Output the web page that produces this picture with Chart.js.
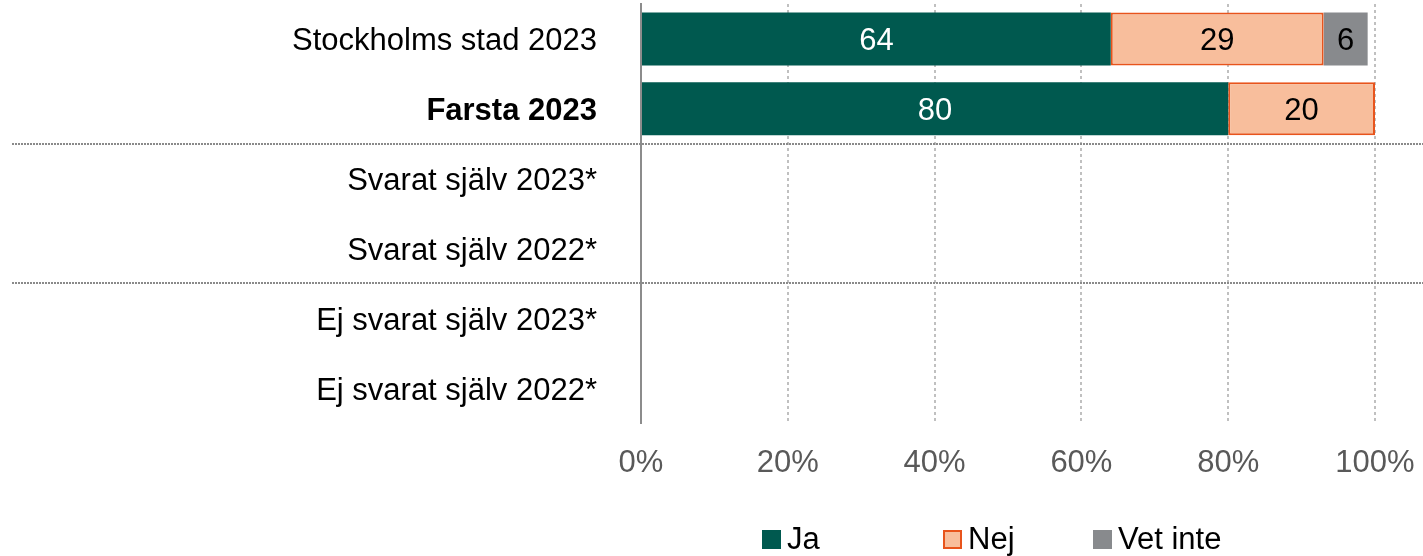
<!DOCTYPE html>
<html lang="sv">
<head>
<meta charset="utf-8">
<script src="https://cdn.jsdelivr.net/npm/chart.js@4.4.0/dist/chart.umd.min.js"></script>
<style>
  html, body { margin: 0; padding: 0; background: #fff; }
  #wrap { position: relative; width: 1423px; height: 556px; }
  #legend { position: absolute; left: 0; top: 520px; width: 1423px; height: 38px;
            font: 31px "Liberation Sans", Arial, sans-serif; color: #000; }
  .item { position: absolute; top: 0; height: 38px; display: flex; align-items: center; white-space: nowrap; }
  .swatch { width: 19px; height: 19px; margin-right: 6px; box-sizing: border-box; }
</style>
</head>
<body>
<div id="wrap">
  <canvas id="chart"></canvas>
  <div id="legend"></div>
</div>
<script>
// ---- data ----
const categories = [
  "Stockholms stad 2023",
  "Farsta 2023",
  "Svarat själv 2023*",
  "Svarat själv 2022*",
  "Ej svarat själv 2023*",
  "Ej svarat själv 2022*"
];
const jaValues      = [64, 80, null, null, null, null];
const nejValues     = [29, 20, null, null, null, null];
const vetInteValues = [6, null, null, null, null, null];
const xTickValues   = [0, 20, 40, 60, 80, 100];
const seriesNames   = ["Ja", "Nej", "Vet inte"];
// separator drawn below these rows
const groupBreaks   = [1, 3];

const FONT = '"Liberation Sans", Arial, sans-serif';

const series = [
  { label: seriesNames[0], data: jaValues,      fill: "#00594F", border: "#00594F", borderWidth: 0, text: "#ffffff", legendLeft: 762 },
  { label: seriesNames[1], data: nejValues,     fill: "#F8BE9C", border: "#E8541C", borderWidth: 2, text: "#000000", legendLeft: 943 },
  { label: seriesNames[2], data: vetInteValues, fill: "#888A8D", border: "#888A8D", borderWidth: 0, text: "#000000", legendLeft: 1093 }
];

// value labels centred in each bar segment
const barLabels = {
  id: "barLabels",
  afterDatasetsDraw(chart) {
    const ctx = chart.ctx;
    ctx.save();
    ctx.font = "31px " + FONT;
    ctx.textAlign = "center";
    ctx.textBaseline = "middle";
    chart.data.datasets.forEach((ds, i) => {
      chart.getDatasetMeta(i).data.forEach((bar, j) => {
        const v = ds.data[j];
        if (v == null) return;
        const p = bar.getProps(["x", "y", "base"], true);
        ctx.fillStyle = ds.labelColor;
        ctx.fillText(String(v), (p.x + p.base) / 2, p.y + 3);
      });
    });
    ctx.restore();
  }
};

// dotted lines between the row groups, running under the labels too
const groupLines = {
  id: "groupLines",
  afterDatasetsDraw(chart) {
    const y = chart.scales.y;
    const ctx = chart.ctx;
    ctx.save();
    ctx.strokeStyle = "#8a8a8a";
    ctx.lineWidth = 2;
    ctx.setLineDash([2, 1]);
    groupBreaks.forEach((i) => {
      const py = Math.round((y.getPixelForValue(i) + y.getPixelForValue(i + 1)) / 2);
      ctx.beginPath();
      ctx.moveTo(12, py);
      ctx.lineTo(chart.width, py);
      ctx.stroke();
    });
    ctx.restore();
  }
};

new Chart(document.getElementById("chart"), {
  type: "bar",
  data: {
    labels: categories,
    datasets: series.map((s) => ({
      label: s.label,
      data: s.data,
      backgroundColor: s.fill,
      borderColor: s.border,
      borderWidth: s.borderWidth,
      borderSkipped: false,
      categoryPercentage: 1,
      barPercentage: 0.76,
      clip: false,
      labelColor: s.text
    }))
  },
  options: {
    indexAxis: "y",
    responsive: true,
    maintainAspectRatio: false,
    animation: false,
    layout: { padding: { top: 4, right: 48, bottom: 63, left: 0 } },
    scales: {
      x: {
        stacked: true,
        min: 0,
        max: 100,
        afterBuildTicks: (scale) => { scale.ticks = xTickValues.map((v) => ({ value: v })); },
        afterFit: (scale) => {
          scale.height = 70;
          scale.paddingLeft = 0;
          scale.paddingRight = 0;
        },
        grid: {
          drawTicks: false,
          lineWidth: 2,
          color: (c) => (c.tick && c.tick.value === 0 ? "rgba(0,0,0,0)" : "#c0c0c0")
        },
        border: { display: false, dash: [3, 3] },
        ticks: {
          padding: 22,
          color: "#595959",
          font: { family: FONT, size: 31 },
          callback: (v) => v + "%"
        }
      },
      y: {
        stacked: true,
        afterFit: (scale) => {
          scale.width = 641;
          scale.paddingTop = 0;
          scale.paddingBottom = 0;
        },
        grid: { display: false, drawTicks: false },
        border: { display: true, color: "#8c8c8c", width: 2 },
        ticks: {
          padding: 44,
          labelOffset: 3,
          color: "#000000",
          font: (c) => ({ family: FONT, size: 31, weight: c.index === 1 ? "bold" : "normal" })
        }
      }
    },
    plugins: {
      legend: { display: false },
      tooltip: { enabled: false }
    }
  },
  plugins: [groupLines, barLabels]
});

// legend under the chart
const legend = document.getElementById("legend");
series.forEach((s) => {
  const item = document.createElement("div");
  item.className = "item";
  item.style.left = s.legendLeft + "px";
  const sw = document.createElement("span");
  sw.className = "swatch";
  sw.style.background = s.fill;
  if (s.borderWidth) sw.style.border = "2px solid " + s.border;
  item.appendChild(sw);
  item.appendChild(document.createTextNode(s.label));
  legend.appendChild(item);
});
</script>
</body>
</html>
